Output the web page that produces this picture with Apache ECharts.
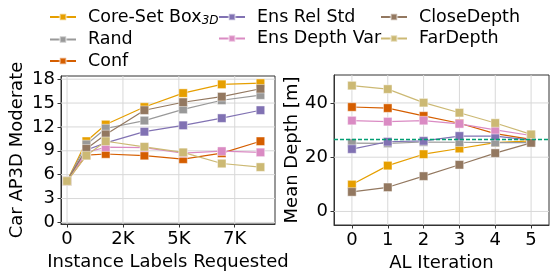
<!DOCTYPE html>
<html><head><meta charset="utf-8">
<script src="https://cdn.jsdelivr.net/npm/echarts@6/dist/echarts.min.js"></script>
<style>html,body{margin:0;padding:0;background:#fff}#c{width:560px;height:280px}</style>
</head><body><div id="c"></div>
<script>
// ---- data ----
const seriesNames = ['Core-Set Box3D', 'Rand', 'Conf', 'Ens Rel Std', 'Ens Depth Var', 'CloseDepth', 'FarDepth'];
const seriesColors = ['#E69F00', '#999999', '#D55E00', '#8172B3', '#DA8BC3', '#937860', '#CCB974'];
const labelsRequested = [0, 865, 1730, 3460, 5190, 6920, 8650];
const apCoreSet     = [5.2, 10.2, 12.3, 14.5, 16.25, 17.35, 17.5];
const apRand        = [5.2, 9.8, 11.8, 12.8, 14.2, 15.35, 16.0];
const apConf        = [5.2, 8.45, 8.6, 8.4, 7.95, 8.7, 10.2];
const apEnsRelStd   = [5.2, 9.1, 10.0, 11.4, 12.2, 13.1, 14.1];
const apEnsDepthVar = [5.2, 8.8, 9.45, 9.4, 8.7, 8.95, 8.8];
const apCloseDepth  = [5.2, 9.25, 11.05, 14.1, 15.1, 15.8, 16.8];
const apFarDepth    = [5.2, 8.4, 10.2, 9.5, 8.8, 7.4, 6.95];

const alIterations = [0, 1, 2, 3, 4, 5];
const depthCoreSet     = [9.9, 16.9, 21.1, 23.2, 25.4, 26.0];
const depthRand        = [25.2, 25.1, 25.6, 25.5, 25.4, 25.4];
const depthConf        = [38.5, 38.1, 35.2, 32.5, 28.7, 26.6];
const depthEnsRelStd   = [23.0, 25.7, 26.0, 27.8, 27.8, 26.3];
const depthEnsDepthVar = [33.5, 33.1, 33.5, 32.3, 30.1, 28.0];
const depthCloseDepth  = [7.2, 8.9, 13.0, 17.2, 21.5, 25.3];
const depthFarDepth    = [46.4, 45.1, 40.1, 36.4, 32.6, 28.4];
const refDepth = 26.5;

const apTicks = [0, 3, 6, 9, 12, 15, 18];
const labelTicks = [0, 2500, 5000, 7500];
const depthTicks = [0, 20, 40];
const iterTicks = [0, 1, 2, 3, 4, 5];

const apSeries = [apCoreSet, apRand, apConf, apEnsRelStd, apEnsDepthVar, apCloseDepth, apFarDepth];
const depthSeries = [depthCoreSet, depthRand, depthConf, depthEnsRelStd, depthEnsDepthVar, depthCloseDepth, depthFarDepth];

// ---- chart ----
const FONT = 'DejaVu Sans';
const FS = 18;
const chart = echarts.init(document.getElementById('c'), null, {renderer: 'canvas'});

function axisCommon(ticks, fmt, margin) {
  return {
    axisLine: {show: true, onZero: false, lineStyle: {color: '#333', width: 1}},
    axisTick: {show: true, length: 3.5, customValues: ticks, lineStyle: {color: '#333', width: 1}},
    axisLabel: {customValues: ticks, color: '#000', fontFamily: FONT, fontSize: FS, margin: margin,
                formatter: fmt || (v => String(v))},
    splitLine: {show: false},
    nameTextStyle: {color: '#000', fontFamily: FONT, fontSize: FS}
  };
}
const apXRange = [-270, 9300], apYRange = [-0.2, 18.4];
const itXRange = [-0.5, 5.5], dYRange = [-5, 50.3];

// grid lines as plain two-point line series placed via the axes
function gridSeries(ticksX, ticksY, xi, yi, xr, yr) {
  const out = [];
  const mk = (pts) => ({type: 'line', xAxisIndex: xi, yAxisIndex: yi, silent: true, z: 1,
    data: pts, symbol: 'none', showSymbol: false, animation: false, emphasis: {disabled: true},
    lineStyle: {color: '#d8d8d8', width: 1}, itemStyle: {color: '#d8d8d8'}, tooltip: {show: false}});
  ticksX.forEach(v => out.push(mk([[v, yr[0]], [v, yr[1]]])));
  ticksY.forEach(v => out.push(mk([[xr[0], v], [xr[1], v]])));
  return out;
}

const series = [].concat(gridSeries(labelTicks, apTicks, 0, 0, apXRange, apYRange),
                         gridSeries(iterTicks, depthTicks, 1, 1, itXRange, dYRange));
seriesNames.forEach((name, i) => {
  const common = {type: 'line', name: name, symbol: 'rect', symbolSize: 8.5,
    lineStyle: {width: 1.2, color: seriesColors[i]},
    itemStyle: {color: seriesColors[i], borderColor: 'rgba(255,255,255,0.45)', borderWidth: 1},
    emphasis: {disabled: true}, animation: false, z: 3 + i};
  series.push(Object.assign({}, common, {xAxisIndex: 0, yAxisIndex: 0,
    data: labelsRequested.map((x, k) => [x, apSeries[i][k]])}));
  series.push(Object.assign({}, common, {xAxisIndex: 1, yAxisIndex: 1,
    data: alIterations.map((x, k) => [x, depthSeries[i][k]])}));
});
series.push({type: 'line', xAxisIndex: 1, yAxisIndex: 1, silent: true, z: 20,
  data: [[itXRange[0], refDepth], [itXRange[1], refDepth]], symbol: 'none', showSymbol: false,
  animation: false, emphasis: {disabled: true}, itemStyle: {color: '#029E73'},
  lineStyle: {color: '#029E73', width: 1.4, type: [4, 2]}});

const legendText = {color: '#000', fontFamily: FONT, fontSize: 17.5, padding: [0, 0, 0, 7],
  rich: {sub: {fontFamily: FONT, fontSize: 12, fontStyle: 'italic', padding: [8, 0, 0, 0], color: '#000'}}};
function legend(names, left) {
  return {data: names, orient: 'vertical', left: left, top: 8, itemWidth: 26, itemHeight: 8, itemGap: 3.5,
    padding: 0, textStyle: legendText, selectedMode: false,
    formatter: n => n === 'Core-Set Box3D' ? 'Core-Set Box{sub|3D}' : n};
}

chart.setOption({
  backgroundColor: '#fff',
  textStyle: {fontFamily: FONT},
  legend: [legend(seriesNames.slice(0, 3), 49), legend(seriesNames.slice(3, 5), 218), legend(seriesNames.slice(5, 7), 380)],
  grid: [
    {left: 61, top: 76, width: 214, height: 148, show: true, borderColor: '#333', borderWidth: 1, backgroundColor: 'transparent'},
    {left: 334, top: 75, width: 215, height: 150, show: true, borderColor: '#333', borderWidth: 1, backgroundColor: 'transparent'}
  ],
  xAxis: [
    Object.assign(axisCommon(labelTicks, v => v === 0 ? '0' : Math.floor(v / 1000) + 'K', 6),
      {type: 'value', gridIndex: 0, min: apXRange[0], max: apXRange[1], name: 'Instance Labels Requested', nameLocation: 'middle', nameGap: 27}),
    Object.assign(axisCommon(iterTicks, null, 6),
      {type: 'value', gridIndex: 1, min: itXRange[0], max: itXRange[1], name: 'AL Iteration', nameLocation: 'middle', nameGap: 27})
  ],
  yAxis: [
    Object.assign(axisCommon(apTicks, null, 6),
      {type: 'value', gridIndex: 0, min: apYRange[0], max: apYRange[1], name: 'Car AP3D Moderate', nameLocation: 'middle', nameGap: 35}),
    Object.assign(axisCommon(depthTicks, null, 6),
      {type: 'value', gridIndex: 1, min: dYRange[0], max: dYRange[1], name: 'Mean Depth [m]', nameLocation: 'middle', nameGap: 32})
  ],
  series: series
});
</script></body></html>
